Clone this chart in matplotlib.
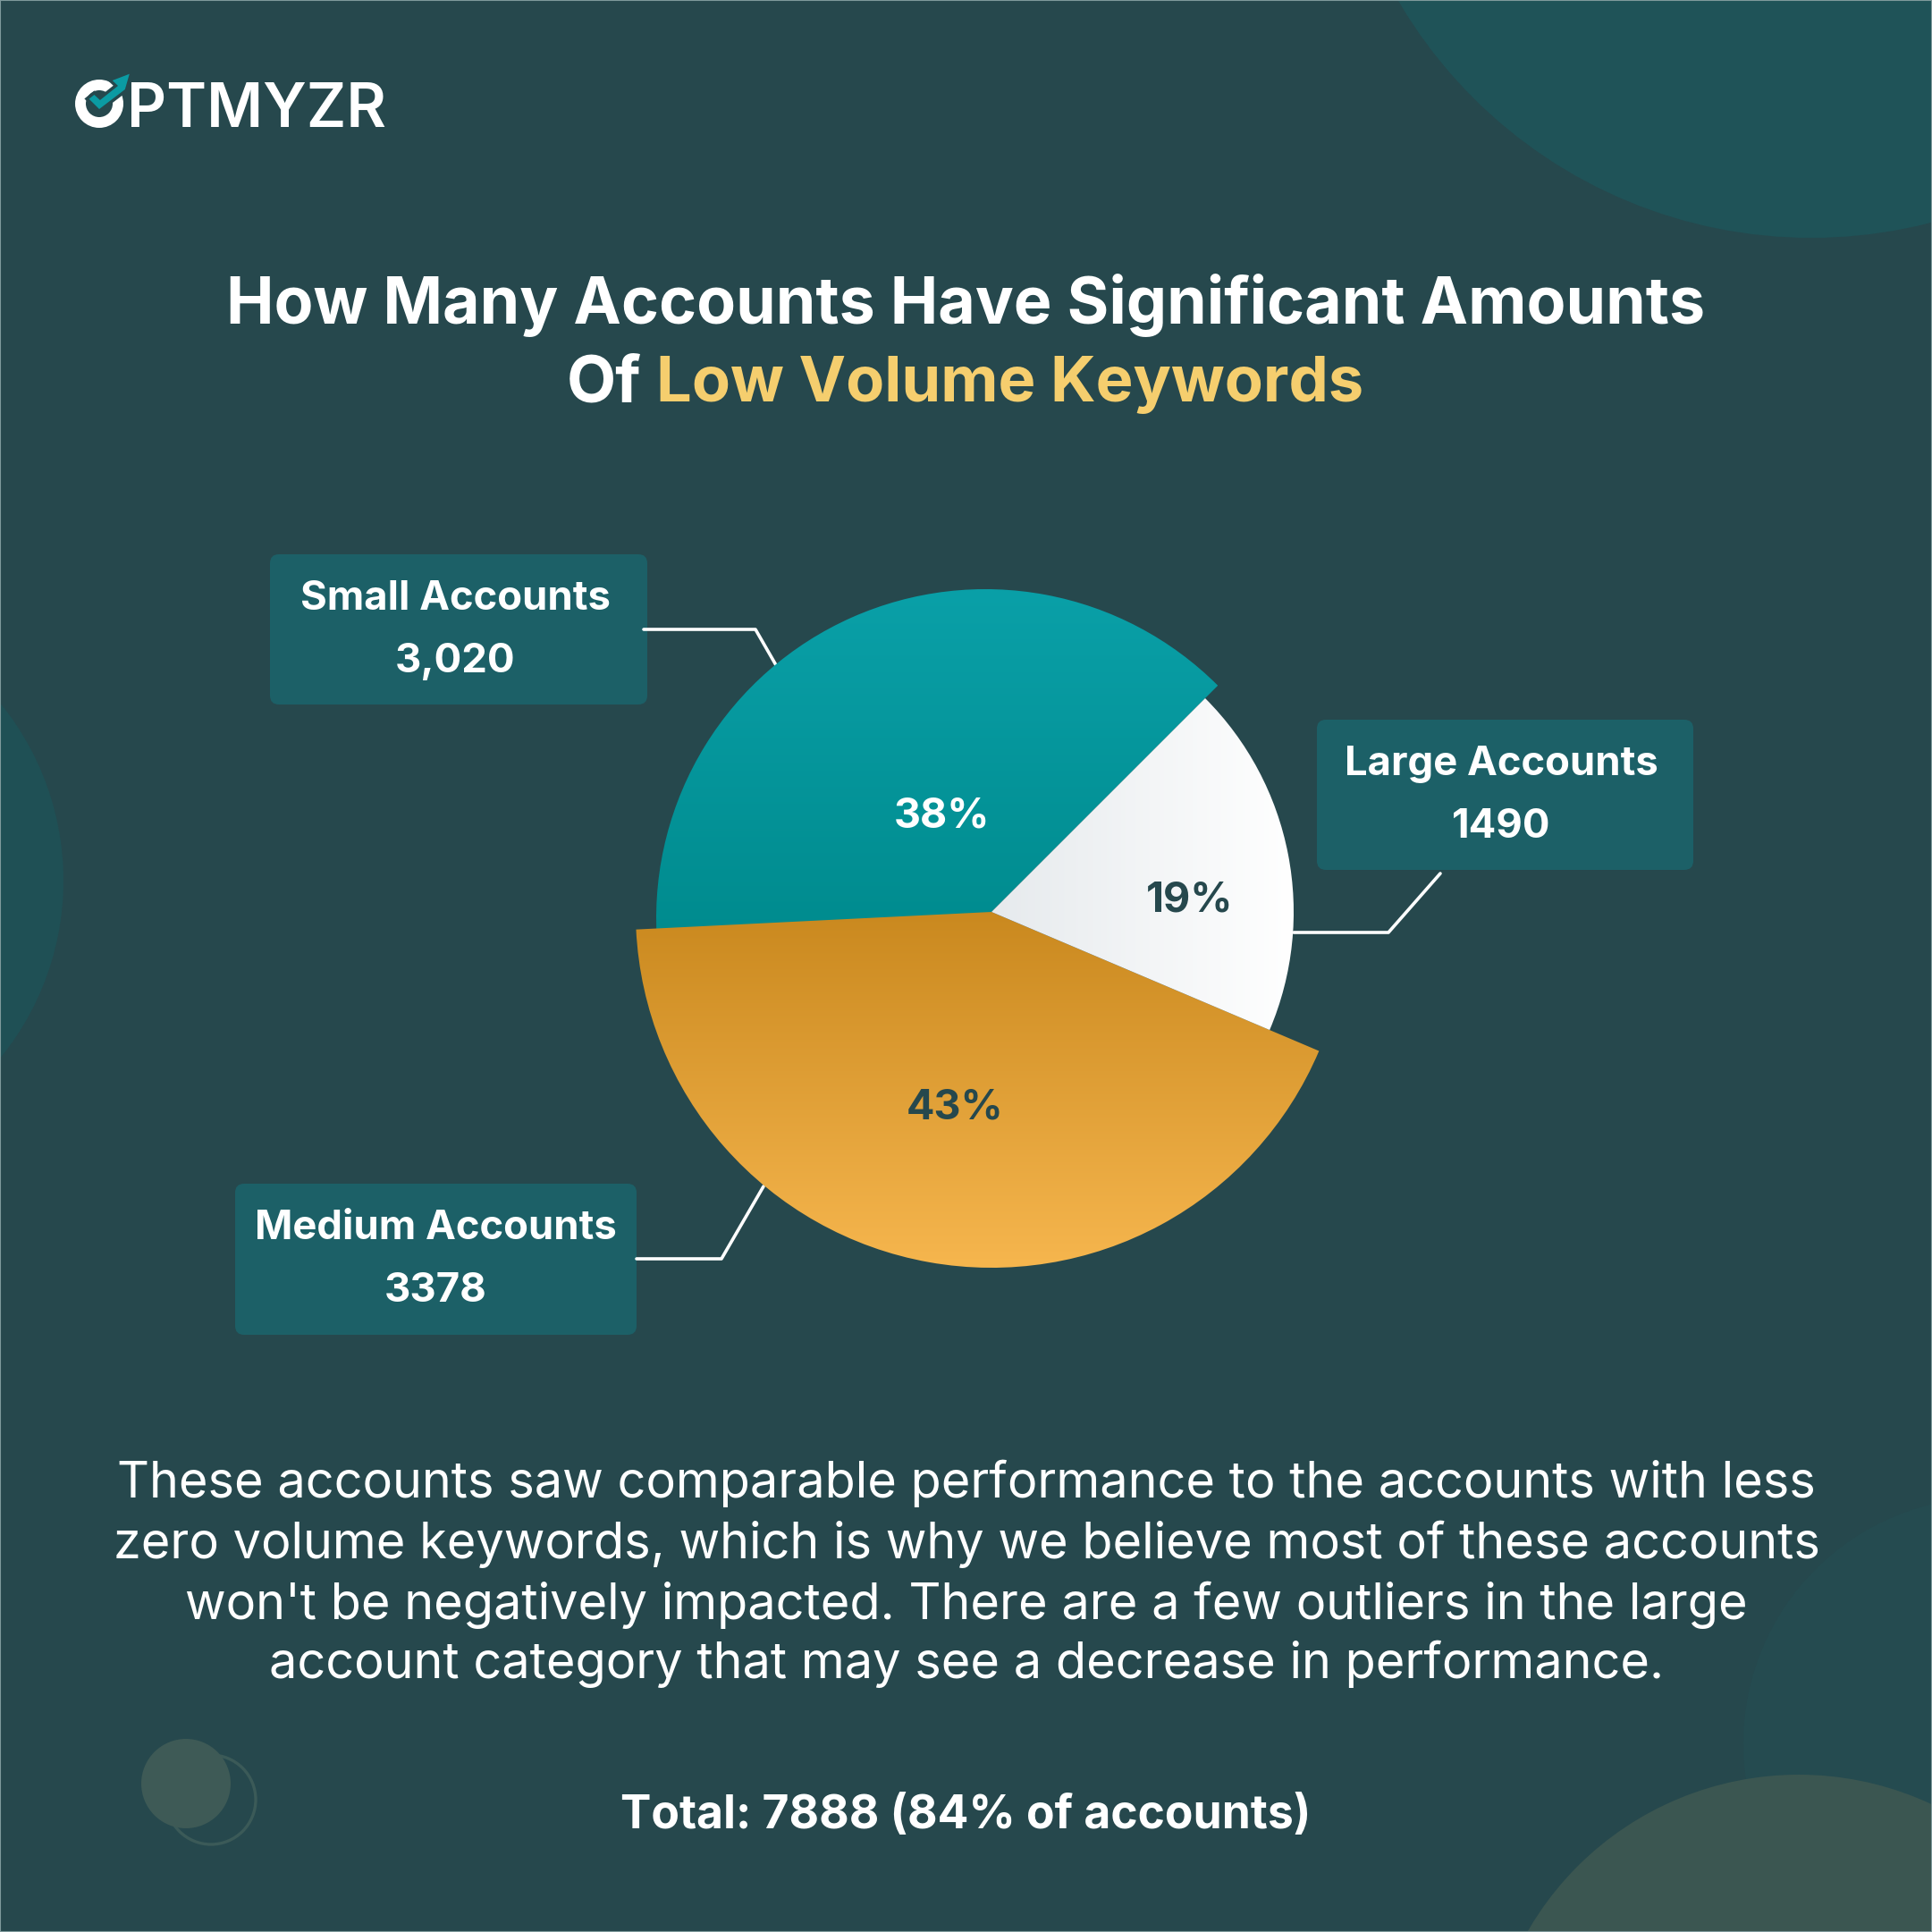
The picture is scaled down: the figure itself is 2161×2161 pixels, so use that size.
import matplotlib
matplotlib.use("Agg")
import matplotlib.pyplot as plt
import numpy as np
from matplotlib.patches import Wedge, Circle, FancyBboxPatch, Polygon, Rectangle

plt.rcParams['font.family'] = ['Inter', 'DejaVu Sans']

# data
categories = ["Small Accounts", "Medium Accounts", "Large Accounts"]
counts = [3020, 3378, 1490]
count_labels = ["3,020", "3378", "1490"]
pct_labels = ["38%", "43%", "19%"]
start_angle = 45.0

title_line1 = "How Many Accounts Have Significant Amounts"
title_of = "Of"
title_hl = "Low Volume Keywords"
body_lines = ["These accounts saw comparable performance to the accounts with less",
              "zero volume keywords, which is why we believe most of these accounts",
              "won't be negatively impacted. There are a few outliers in the large",
              "account category that may see a decrease in performance."]
total_label = "Total: 7888 (84% of accounts)"

SIZE = 2161
BG = '#26484D'
BOX = '#1C6067'


def fy(y):
    return SIZE - y


fig = plt.figure(figsize=(21.61, 21.61), dpi=100, facecolor=BG)
ax = fig.add_axes([0, 0, 1, 1])
ax.set_axis_off()
renderer = fig.canvas.get_renderer()


def fit_text(x, y, s, width, **kw):
    t = ax.text(x, fy(y), s, va='baseline', **kw)
    w = t.get_window_extent(renderer).width
    t.set_fontsize(t.get_fontsize() * width / w)
    return t


# background shapes
ax.add_patch(Circle((2026, fy(-269)), 535, fc='#1F5358', ec='none'))
ax.add_patch(Circle((-243, fy(985)), 314, fc='#1F5055', ec='none'))
ax.add_patch(Circle((2225, fy(1950)), 275, fc='#254B50', ec='none'))
ax.add_patch(Circle((2012, fy(2335)), 350, fc='#3B5651', ec='none'))
ax.add_patch(Circle((236, fy(2013)), 50, fc='none', ec='#3B5A58', lw=2.4))
ax.add_patch(Circle((208, fy(1995)), 50, fc='#3E5A56', ec='none'))
ax.add_patch(Rectangle((0, 0), SIZE, SIZE, fc='none', ec='#7F9A9C', lw=1.5))

# logo
ax.add_patch(Circle((111, fy(116)), 21, fc='none', ec='white', lw=8.6))
check = [(99.6, 110.7), (105.4, 106), (111.9, 112), (132, 96), (125.7, 90),
         (144.8, 82.7), (139.8, 100), (111, 122)]
check = [(px, fy(py)) for px, py in check]
ax.add_patch(Polygon(check, closed=True, fc=BG, ec=BG, lw=5))
ax.add_patch(Polygon(check, closed=True, fc='#0B9BA3', ec='none'))
fit_text(142, 142, "PTMYZR", 290, color='white', fontsize=50, fontweight='semibold')

# title
t1 = fit_text(1080, 362, title_line1, 1653, color='white', fontsize=50, fontweight='bold', ha='center')
title_fs = t1.get_fontsize()
ax.text(634, fy(449), title_of, color='white', fontsize=title_fs, fontweight='bold', va='baseline')
fit_text(734, 449, title_hl, 793, color='#F5CE6E', fontsize=title_fs, fontweight='bold')

# pie slices, one gradient per slice
centers = [(1102, fy(1027)), (1109, fy(1020)), (1109, fy(1020))]
radii = [368, 398, 338]
gradients = [['#0AA0A8', '#008B8E'], ['#C8871D', '#F6B64E'], ['#E6EAED', '#FFFFFF']]
angles = start_angle + np.cumsum([0] + counts) / sum(counts) * 360
for i in [2, 0, 1]:
    cx, cy = centers[i]
    r = radii[i]
    wedge = Wedge((cx, cy), r, angles[i], angles[i + 1], fc='none', ec='none')
    ax.add_patch(wedge)
    cols = matplotlib.colors.LinearSegmentedColormap.from_list('g', gradients[i])
    grad = np.linspace(0, 1, 256).reshape(-1, 1)
    if i == 0:
        ext = (cx - r, cx + r, cy - 20, cy + r)
    elif i == 1:
        ext = (cx - r, cx + r, cy - r, cy + 16)
    else:
        # the light slice runs from the apex outwards
        grad = grad.T
        ext = (cx, cx + r, cy - r, cy + r)
    im = ax.imshow(grad, cmap=cols, extent=ext, origin='upper', aspect='auto', zorder=2 + i)
    im.set_clip_path(wedge)

# percent labels
pct_pos = [(1054, 926), (1068, 1252), (1331, 1019)]
pct_cols = ['white', BG, BG]
for p, (x, y), c in zip(pct_labels, pct_pos, pct_cols):
    ax.text(x, fy(y), p, color=c, fontsize=33.5, fontweight='bold', ha='center', va='baseline', zorder=10)

# callouts
boxes = [(302, 620, 724, 788), (263, 1324, 712, 1493), (1473, 805, 1894, 973)]
label_x = [509, 487, 1679]
leaders = [[(720, 704), (845, 704), (868, 744)],
           [(712, 1408), (807, 1408), (854, 1327)],
           [(1447, 1043), (1553, 1043), (1611, 977)]]
name_widths = [347, 405, 351]
for i, (x0, y0, x1, y1) in enumerate(boxes):
    ax.add_patch(FancyBboxPatch((x0, fy(y1)), x1 - x0, y1 - y0, boxstyle='round,pad=0,rounding_size=10',
                                fc=BOX, ec='none', zorder=1))
    xs, ys = zip(*leaders[i])
    ax.plot(xs, [fy(v) for v in ys], color='white', lw=2.6, zorder=1.5, solid_capstyle='round')
    nm = fit_text(label_x[i], y0 + 62, categories[i], name_widths[i], color='white', fontsize=30,
                  fontweight='bold', ha='center')
    ax.text(label_x[i], fy(y0 + 132), count_labels[i], color='white', fontsize=nm.get_fontsize(),
            fontweight='bold', ha='center', va='baseline')

# body text
body_y = [1675, 1743, 1811, 1877]
for line, y in zip(body_lines, body_y):
    ax.text(1081, fy(y), line, color='white', fontsize=40.2, ha='center', va='baseline')

fit_text(1080, 2045, total_label, 772, color='white', fontsize=36, fontweight='bold', ha='center')

ax.set_xlim(0, SIZE)
ax.set_ylim(0, SIZE)
fig.savefig("out.png", dpi=100, facecolor=BG)
